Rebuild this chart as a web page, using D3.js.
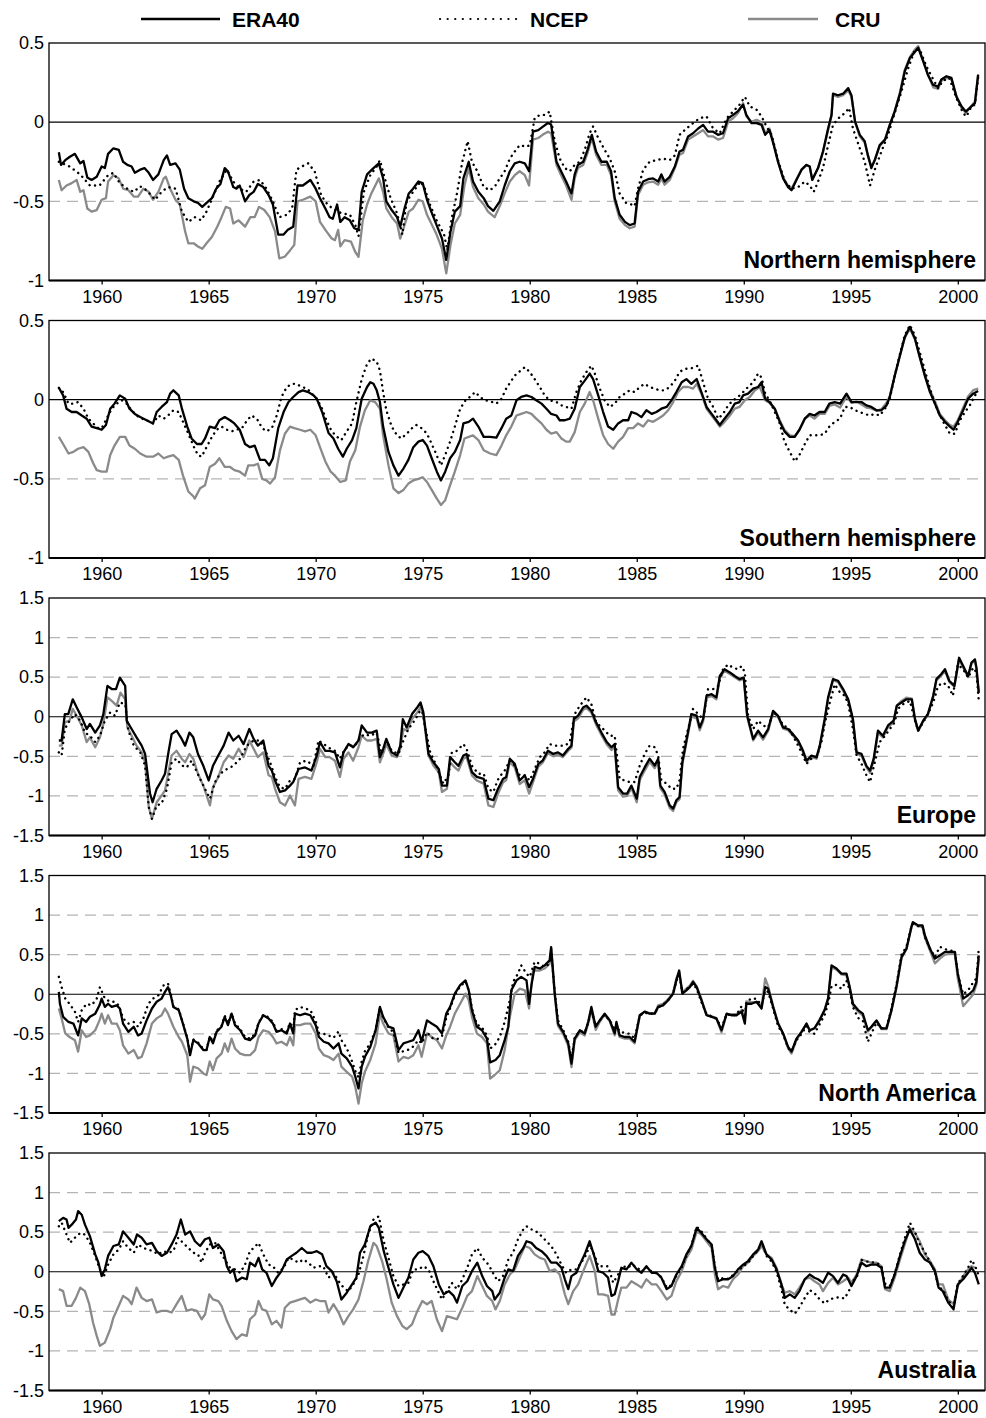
<!DOCTYPE html>
<html><head><meta charset="utf-8">
<script src="https://cdn.jsdelivr.net/npm/d3@7"></script>
<style>body{margin:0;background:#fff}svg{display:block}text{font-family:"Liberation Sans",Arial,Helvetica,sans-serif}</style>
</head><body><svg id="chart" width="986" height="1418"></svg>
<script>
const seriesNames = ["ERA40", "NCEP", "CRU"];
const panelNames = ["Northern hemisphere", "Southern hemisphere", "Europe", "North America", "Australia"];
const xTicks = [1960, 1965, 1970, 1975, 1980, 1985, 1990, 1995, 2000];
const yTicksHemi = [0.5, 0, -0.5, -1];
const yTicksRegion = [1.5, 1, 0.5, 0, -0.5, -1, -1.5];

// ---------- Northern hemisphere ----------
const nhERA40 = [[1958.0,-0.19],[1958.1,-0.27],[1958.3,-0.24],[1958.5,-0.22],[1958.75,-0.2],[1959.0,-0.26],[1959.15,-0.245],[1959.33,-0.35],[1959.53,-0.365],[1959.77,-0.345],[1960.0,-0.28],[1960.15,-0.29],[1960.3,-0.2],[1960.55,-0.165],[1960.8,-0.175],[1961.0,-0.25],[1961.2,-0.27],[1961.4,-0.28],[1961.55,-0.32],[1961.8,-0.3],[1962.0,-0.29],[1962.2,-0.32],[1962.4,-0.365],[1962.65,-0.33],[1962.9,-0.24],[1963.05,-0.21],[1963.2,-0.27],[1963.45,-0.26],[1963.65,-0.3],[1963.85,-0.42],[1964.05,-0.48],[1964.3,-0.5],[1964.5,-0.51],[1964.7,-0.535],[1964.9,-0.51],[1965.15,-0.48],[1965.35,-0.42],[1965.55,-0.39],[1965.75,-0.29],[1965.9,-0.31],[1966.15,-0.41],[1966.3,-0.42],[1966.45,-0.4],[1966.7,-0.5],[1966.9,-0.46],[1967.1,-0.44],[1967.3,-0.39],[1967.55,-0.41],[1967.8,-0.46],[1968.0,-0.52],[1968.25,-0.71],[1968.5,-0.71],[1968.7,-0.68],[1968.95,-0.66],[1969.15,-0.4],[1969.4,-0.4],[1969.75,-0.365],[1970.0,-0.42],[1970.2,-0.48],[1970.45,-0.545],[1970.65,-0.6],[1970.8,-0.61],[1971.0,-0.52],[1971.15,-0.63],[1971.35,-0.6],[1971.6,-0.62],[1971.8,-0.67],[1972.0,-0.68],[1972.15,-0.44],[1972.4,-0.33],[1972.7,-0.29],[1972.95,-0.26],[1973.15,-0.355],[1973.3,-0.5],[1973.55,-0.555],[1973.8,-0.6],[1973.95,-0.66],[1974.15,-0.545],[1974.35,-0.45],[1974.55,-0.42],[1974.8,-0.375],[1975.0,-0.385],[1975.2,-0.49],[1975.4,-0.565],[1975.65,-0.65],[1975.9,-0.735],[1976.1,-0.87],[1976.3,-0.69],[1976.5,-0.565],[1976.75,-0.53],[1976.9,-0.355],[1977.15,-0.25],[1977.35,-0.375],[1977.6,-0.44],[1977.85,-0.48],[1978.05,-0.53],[1978.3,-0.56],[1978.6,-0.5],[1978.83,-0.4],[1979.07,-0.31],[1979.3,-0.26],[1979.53,-0.25],[1979.77,-0.26],[1979.97,-0.31],[1980.15,-0.06],[1980.4,-0.05],[1980.6,-0.03],[1980.85,-0.005],[1981.0,-0.015],[1981.25,-0.25],[1981.5,-0.32],[1981.7,-0.375],[1981.95,-0.45],[1982.1,-0.33],[1982.25,-0.27],[1982.5,-0.25],[1982.7,-0.175],[1982.9,-0.08],[1983.1,-0.185],[1983.35,-0.25],[1983.6,-0.25],[1983.8,-0.31],[1983.97,-0.48],[1984.2,-0.585],[1984.45,-0.63],[1984.67,-0.65],[1984.9,-0.64],[1985.06,-0.44],[1985.3,-0.375],[1985.53,-0.36],[1985.76,-0.355],[1986.0,-0.375],[1986.15,-0.33],[1986.3,-0.375],[1986.54,-0.345],[1986.78,-0.28],[1987.0,-0.185],[1987.16,-0.175],[1987.4,-0.09],[1987.63,-0.07],[1987.87,-0.04],[1988.1,-0.017],[1988.33,-0.06],[1988.57,-0.06],[1988.8,-0.08],[1989.03,-0.07],[1989.27,0.025],[1989.5,0.046],[1989.73,0.07],[1989.97,0.11],[1990.12,0.046],[1990.36,-0.006],[1990.6,-0.006],[1990.83,-0.017],[1991.0,-0.08],[1991.2,-0.05],[1991.37,-0.13],[1991.6,-0.25],[1991.84,-0.355],[1992.07,-0.41],[1992.23,-0.43],[1992.46,-0.365],[1992.7,-0.3],[1992.93,-0.27],[1993.08,-0.28],[1993.2,-0.365],[1993.47,-0.29],[1993.7,-0.185],[1993.94,-0.04],[1994.1,0.046],[1994.17,0.18],[1994.4,0.17],[1994.64,0.18],[1994.88,0.215],[1995.03,0.17],[1995.2,0.004],[1995.42,-0.08],[1995.65,-0.12],[1995.8,-0.21],[1995.96,-0.29],[1996.12,-0.24],[1996.35,-0.145],[1996.6,-0.11],[1996.82,-0.017],[1997.05,0.067],[1997.3,0.18],[1997.52,0.32],[1997.76,0.405],[1998.0,0.445],[1998.15,0.47],[1998.38,0.385],[1998.6,0.3],[1998.85,0.235],[1999.08,0.225],[1999.23,0.27],[1999.47,0.29],[1999.7,0.28],[1999.94,0.16],[2000.17,0.1],[2000.37,0.067],[2000.56,0.09],[2000.8,0.12],[2000.95,0.3]];
const nhNCEP = [[1958.0,-0.25],[1958.5,-0.28],[1959.0,-0.33],[1959.45,-0.4],[1959.9,-0.4],[1960.3,-0.335],[1960.55,-0.32],[1960.85,-0.385],[1961.2,-0.42],[1961.5,-0.44],[1961.8,-0.405],[1962.1,-0.43],[1962.5,-0.49],[1962.8,-0.44],[1963.1,-0.41],[1963.45,-0.42],[1963.75,-0.565],[1964.05,-0.63],[1964.35,-0.6],[1964.65,-0.62],[1964.9,-0.565],[1965.2,-0.47],[1965.5,-0.375],[1965.85,-0.3],[1966.15,-0.375],[1966.45,-0.42],[1966.75,-0.44],[1967.1,-0.375],[1967.4,-0.365],[1967.7,-0.42],[1968.0,-0.5],[1968.3,-0.6],[1968.65,-0.585],[1968.9,-0.545],[1969.1,-0.3],[1969.35,-0.28],[1969.65,-0.26],[1969.95,-0.31],[1970.25,-0.46],[1970.55,-0.52],[1970.9,-0.555],[1971.2,-0.575],[1971.6,-0.585],[1971.85,-0.65],[1972.0,-0.72],[1972.25,-0.44],[1972.55,-0.335],[1972.85,-0.28],[1973.0,-0.24],[1973.25,-0.365],[1973.5,-0.48],[1973.8,-0.575],[1974.05,-0.71],[1974.25,-0.5],[1974.55,-0.44],[1974.9,-0.375],[1975.1,-0.42],[1975.35,-0.525],[1975.65,-0.62],[1976.0,-0.71],[1976.15,-0.81],[1976.35,-0.61],[1976.6,-0.45],[1976.85,-0.25],[1977.1,-0.12],[1977.3,-0.25],[1977.55,-0.31],[1977.85,-0.41],[1978.15,-0.43],[1978.4,-0.4],[1978.6,-0.355],[1978.83,-0.31],[1979.07,-0.23],[1979.3,-0.185],[1979.53,-0.145],[1979.85,-0.155],[1980.0,-0.145],[1980.23,0.025],[1980.47,0.046],[1980.7,0.046],[1980.93,0.067],[1981.17,-0.12],[1981.4,-0.23],[1981.64,-0.29],[1981.87,-0.31],[1982.1,-0.27],[1982.34,-0.25],[1982.57,-0.175],[1982.8,-0.07],[1982.96,-0.027],[1983.2,-0.1],[1983.5,-0.175],[1983.74,-0.23],[1983.97,-0.31],[1984.2,-0.45],[1984.5,-0.51],[1984.75,-0.52],[1984.9,-0.53],[1985.06,-0.42],[1985.3,-0.3],[1985.6,-0.25],[1985.92,-0.24],[1986.23,-0.23],[1986.54,-0.24],[1986.78,-0.21],[1987.0,-0.08],[1987.32,-0.04],[1987.63,-0.006],[1987.94,0.025],[1988.26,0.036],[1988.57,-0.04],[1988.88,-0.07],[1989.2,0.025],[1989.5,0.067],[1989.8,0.11],[1990.05,0.16],[1990.28,0.1],[1990.6,0.078],[1990.83,0.036],[1991.06,-0.027],[1991.3,-0.08],[1991.6,-0.24],[1991.92,-0.375],[1992.23,-0.42],[1992.54,-0.41],[1992.85,-0.375],[1993.08,-0.4],[1993.27,-0.44],[1993.47,-0.375],[1993.7,-0.29],[1993.94,-0.145],[1994.17,-0.017],[1994.5,0.036],[1994.72,0.057],[1994.92,0.09],[1995.1,-0.04],[1995.42,-0.165],[1995.65,-0.25],[1995.9,-0.4],[1996.12,-0.3],[1996.43,-0.185],[1996.74,-0.08],[1997.05,0.057],[1997.37,0.195],[1997.68,0.34],[1998.0,0.46],[1998.22,0.46],[1998.54,0.35],[1998.85,0.27],[1999.08,0.215],[1999.3,0.26],[1999.6,0.28],[1999.94,0.15],[2000.25,0.057],[2000.4,0.036],[2000.64,0.1],[2000.8,0.11],[2000.95,0.28]];
const nhCRU = [[1958.0,-0.365],[1958.13,-0.43],[1958.36,-0.4],[1958.6,-0.385],[1958.83,-0.365],[1959.0,-0.44],[1959.15,-0.43],[1959.33,-0.545],[1959.53,-0.565],[1959.77,-0.555],[1960.0,-0.49],[1960.2,-0.48],[1960.3,-0.375],[1960.55,-0.335],[1960.8,-0.355],[1961.0,-0.42],[1961.25,-0.43],[1961.5,-0.47],[1961.7,-0.47],[1961.95,-0.42],[1962.2,-0.44],[1962.4,-0.49],[1962.65,-0.44],[1962.9,-0.355],[1963.0,-0.345],[1963.2,-0.42],[1963.45,-0.49],[1963.65,-0.52],[1963.9,-0.69],[1964.05,-0.765],[1964.3,-0.765],[1964.5,-0.785],[1964.7,-0.8],[1964.9,-0.765],[1965.15,-0.725],[1965.4,-0.66],[1965.6,-0.6],[1965.8,-0.535],[1966.0,-0.545],[1966.15,-0.64],[1966.4,-0.62],[1966.7,-0.66],[1966.95,-0.6],[1967.15,-0.6],[1967.35,-0.535],[1967.6,-0.555],[1967.85,-0.6],[1968.1,-0.69],[1968.3,-0.86],[1968.55,-0.85],[1968.8,-0.81],[1969.0,-0.775],[1969.15,-0.5],[1969.4,-0.49],[1969.75,-0.47],[1970.0,-0.5],[1970.2,-0.63],[1970.5,-0.69],[1970.75,-0.735],[1970.9,-0.745],[1971.05,-0.68],[1971.15,-0.785],[1971.35,-0.745],[1971.65,-0.755],[1971.85,-0.82],[1972.0,-0.85],[1972.2,-0.62],[1972.4,-0.52],[1972.6,-0.45],[1972.95,-0.355],[1973.15,-0.44],[1973.3,-0.545],[1973.55,-0.6],[1973.8,-0.64],[1973.95,-0.735],[1974.15,-0.65],[1974.35,-0.565],[1974.55,-0.545],[1974.8,-0.49],[1975.0,-0.5],[1975.2,-0.585],[1975.4,-0.64],[1975.65,-0.71],[1975.9,-0.8],[1976.1,-0.955],[1976.3,-0.775],[1976.5,-0.64],[1976.75,-0.585],[1976.95,-0.4],[1977.15,-0.29],[1977.35,-0.41],[1977.6,-0.48],[1977.85,-0.52],[1978.05,-0.565],[1978.36,-0.6],[1978.6,-0.53],[1978.83,-0.45],[1979.07,-0.375],[1979.3,-0.335],[1979.53,-0.31],[1979.77,-0.335],[1979.97,-0.4],[1980.15,-0.11],[1980.4,-0.1],[1980.6,-0.08],[1980.85,-0.06],[1981.0,-0.07],[1981.25,-0.27],[1981.5,-0.345],[1981.7,-0.4],[1981.95,-0.49],[1982.1,-0.355],[1982.25,-0.29],[1982.5,-0.27],[1982.7,-0.195],[1982.9,-0.1],[1983.1,-0.205],[1983.35,-0.27],[1983.6,-0.27],[1983.8,-0.335],[1983.97,-0.5],[1984.2,-0.61],[1984.45,-0.65],[1984.67,-0.67],[1984.9,-0.66],[1985.06,-0.46],[1985.3,-0.395],[1985.53,-0.38],[1985.76,-0.375],[1986.0,-0.395],[1986.15,-0.355],[1986.3,-0.395],[1986.54,-0.365],[1986.78,-0.29],[1987.0,-0.205],[1987.16,-0.195],[1987.4,-0.11],[1987.63,-0.09],[1987.87,-0.07],[1988.1,-0.05],[1988.33,-0.09],[1988.57,-0.09],[1988.8,-0.11],[1989.03,-0.1],[1989.27,0.004],[1989.5,0.025],[1989.73,0.057],[1989.97,0.12],[1990.12,0.036],[1990.36,0.004],[1990.6,0.015],[1990.83,0.0],[1991.0,-0.07],[1991.2,-0.04],[1991.37,-0.12],[1991.6,-0.25],[1991.84,-0.35],[1992.07,-0.4],[1992.23,-0.42],[1992.46,-0.36],[1992.7,-0.3],[1992.93,-0.27],[1993.08,-0.28],[1993.2,-0.36],[1993.47,-0.29],[1993.7,-0.19],[1993.94,-0.05],[1994.1,0.04],[1994.17,0.17],[1994.4,0.16],[1994.64,0.17],[1994.88,0.2],[1995.03,0.16],[1995.2,0.0],[1995.42,-0.09],[1995.65,-0.13],[1995.8,-0.21],[1995.96,-0.28],[1996.12,-0.24],[1996.35,-0.15],[1996.6,-0.11],[1996.82,-0.02],[1997.05,0.07],[1997.3,0.19],[1997.52,0.33],[1997.76,0.41],[1998.0,0.46],[1998.15,0.48],[1998.38,0.39],[1998.6,0.3],[1998.85,0.22],[1999.08,0.21],[1999.23,0.26],[1999.47,0.28],[1999.7,0.27],[1999.94,0.16],[2000.17,0.09],[2000.37,0.06],[2000.56,0.09],[2000.8,0.13],[2000.95,0.3]];

// ---------- Southern hemisphere ----------
const shERA40 = [[1958.0,0.075],[1958.2,0.027],[1958.36,-0.057],[1958.6,-0.078],[1958.83,-0.078],[1959.07,-0.1],[1959.3,-0.12],[1959.53,-0.17],[1959.77,-0.18],[1960.0,-0.19],[1960.2,-0.16],[1960.4,-0.057],[1960.6,-0.025],[1960.85,0.027],[1961.1,0.006],[1961.3,-0.057],[1961.55,-0.09],[1961.8,-0.11],[1962.1,-0.13],[1962.4,-0.15],[1962.57,-0.078],[1962.8,-0.046],[1963.05,-0.015],[1963.2,0.038],[1963.35,0.059],[1963.6,0.027],[1963.75,-0.057],[1964.0,-0.17],[1964.2,-0.245],[1964.45,-0.28],[1964.67,-0.28],[1964.83,-0.245],[1965.05,-0.17],[1965.3,-0.18],[1965.5,-0.13],[1965.75,-0.11],[1966.0,-0.13],[1966.2,-0.15],[1966.45,-0.19],[1966.7,-0.28],[1966.93,-0.3],[1967.15,-0.29],[1967.4,-0.38],[1967.63,-0.38],[1967.83,-0.415],[1968.0,-0.37],[1968.25,-0.18],[1968.5,-0.078],[1968.73,-0.015],[1968.95,0.017],[1969.2,0.048],[1969.4,0.059],[1969.65,0.048],[1969.9,0.027],[1970.05,0.006],[1970.3,-0.078],[1970.6,-0.21],[1970.83,-0.245],[1971.05,-0.31],[1971.27,-0.36],[1971.45,-0.31],[1971.7,-0.255],[1971.9,-0.18],[1972.15,0.006],[1972.4,0.08],[1972.55,0.11],[1972.7,0.1],[1972.85,0.059],[1973.0,-0.015],[1973.15,-0.17],[1973.4,-0.33],[1973.63,-0.415],[1973.87,-0.48],[1974.1,-0.435],[1974.33,-0.38],[1974.56,-0.3],[1974.8,-0.265],[1975.0,-0.255],[1975.2,-0.29],[1975.42,-0.37],[1975.66,-0.455],[1975.85,-0.51],[1976.05,-0.455],[1976.28,-0.37],[1976.5,-0.33],[1976.75,-0.255],[1976.9,-0.15],[1977.15,-0.14],[1977.35,-0.12],[1977.6,-0.17],[1977.85,-0.235],[1978.15,-0.235],[1978.44,-0.24],[1978.68,-0.18],[1978.9,-0.12],[1979.14,-0.1],[1979.38,-0.004],[1979.6,0.017],[1979.85,0.027],[1980.08,0.017],[1980.3,-0.004],[1980.55,-0.025],[1980.78,-0.057],[1981.0,-0.09],[1981.25,-0.1],[1981.4,-0.13],[1981.64,-0.13],[1981.87,-0.12],[1982.1,-0.057],[1982.34,0.08],[1982.57,0.12],[1982.8,0.165],[1982.96,0.13],[1983.2,0.027],[1983.43,-0.078],[1983.66,-0.17],[1983.9,-0.19],[1984.13,-0.15],[1984.36,-0.13],[1984.6,-0.13],[1984.75,-0.078],[1985.0,-0.09],[1985.22,-0.11],[1985.45,-0.067],[1985.7,-0.09],[1985.92,-0.078],[1986.15,-0.057],[1986.4,-0.046],[1986.62,-0.004],[1986.85,0.048],[1987.1,0.11],[1987.32,0.13],[1987.55,0.1],[1987.8,0.13],[1988.02,0.048],[1988.26,-0.046],[1988.5,-0.09],[1988.72,-0.13],[1988.88,-0.16],[1989.1,-0.12],[1989.35,-0.078],[1989.58,-0.025],[1989.8,-0.015],[1989.97,0.027],[1990.2,0.038],[1990.44,0.07],[1990.67,0.08],[1990.83,0.11],[1991.0,0.006],[1991.2,-0.015],[1991.45,-0.057],[1991.68,-0.14],[1991.9,-0.2],[1992.15,-0.235],[1992.38,-0.235],[1992.6,-0.19],[1992.85,-0.12],[1993.08,-0.09],[1993.3,-0.1],[1993.54,-0.078],[1993.78,-0.078],[1994.0,-0.025],[1994.25,-0.015],[1994.5,-0.025],[1994.8,0.038],[1995.03,-0.015],[1995.27,-0.015],[1995.5,-0.015],[1995.73,-0.036],[1995.96,-0.046],[1996.2,-0.067],[1996.43,-0.067],[1996.67,-0.036],[1996.82,0.017],[1997.05,0.15],[1997.3,0.28],[1997.52,0.395],[1997.76,0.46],[1998.0,0.385],[1998.22,0.27],[1998.46,0.15],[1998.7,0.048],[1998.93,-0.025],[1999.16,-0.1],[1999.4,-0.14],[1999.63,-0.17],[1999.8,-0.19],[2000.0,-0.14],[2000.25,-0.067],[2000.48,0.006],[2000.72,0.038],[2000.95,0.055]];
const shNCEP = [[1958.0,0.075],[1958.2,0.048],[1958.45,-0.025],[1958.68,-0.025],[1958.9,-0.015],[1959.15,-0.057],[1959.38,-0.12],[1959.6,-0.15],[1959.85,-0.18],[1960.0,-0.18],[1960.23,-0.12],[1960.47,-0.057],[1960.7,-0.025],[1960.95,-0.004],[1961.17,-0.025],[1961.4,-0.067],[1961.63,-0.1],[1961.87,-0.12],[1962.1,-0.13],[1962.4,-0.15],[1962.65,-0.1],[1962.9,-0.12],[1963.1,-0.1],[1963.35,-0.067],[1963.6,-0.078],[1963.8,-0.14],[1964.05,-0.215],[1964.28,-0.29],[1964.5,-0.35],[1964.67,-0.36],[1964.9,-0.3],[1965.15,-0.235],[1965.37,-0.19],[1965.6,-0.17],[1965.85,-0.19],[1966.08,-0.2],[1966.3,-0.19],[1966.55,-0.18],[1966.8,-0.13],[1967.0,-0.1],[1967.25,-0.12],[1967.5,-0.18],[1967.7,-0.2],[1967.95,-0.18],[1968.18,-0.1],[1968.4,0.017],[1968.65,0.08],[1968.9,0.1],[1969.1,0.1],[1969.35,0.08],[1969.6,0.07],[1969.82,0.038],[1970.05,0.006],[1970.3,-0.057],[1970.5,-0.13],[1970.75,-0.2],[1971.0,-0.235],[1971.2,-0.255],[1971.45,-0.2],[1971.7,-0.15],[1971.9,-0.015],[1972.15,0.13],[1972.4,0.225],[1972.6,0.26],[1972.85,0.24],[1973.0,0.185],[1973.15,0.048],[1973.3,-0.067],[1973.55,-0.17],[1973.8,-0.225],[1974.0,-0.245],[1974.25,-0.215],[1974.5,-0.18],[1974.7,-0.16],[1974.95,-0.18],[1975.2,-0.215],[1975.42,-0.28],[1975.65,-0.35],[1975.85,-0.415],[1976.05,-0.35],[1976.28,-0.265],[1976.5,-0.17],[1976.75,-0.057],[1977.0,-0.004],[1977.2,0.017],[1977.45,0.048],[1977.68,0.017],[1977.9,-0.004],[1978.15,-0.01],[1978.44,-0.025],[1978.68,0.006],[1978.9,0.07],[1979.14,0.12],[1979.38,0.165],[1979.6,0.185],[1979.77,0.205],[1980.0,0.175],[1980.23,0.13],[1980.47,0.08],[1980.7,0.027],[1980.93,-0.004],[1981.25,-0.015],[1981.48,-0.036],[1981.7,-0.046],[1981.95,-0.057],[1982.18,0.048],[1982.4,0.12],[1982.65,0.175],[1982.88,0.215],[1983.04,0.165],[1983.27,0.07],[1983.5,-0.004],[1983.74,-0.046],[1983.97,-0.025],[1984.2,0.017],[1984.44,0.038],[1984.67,0.059],[1984.9,0.048],[1985.14,0.08],[1985.37,0.1],[1985.6,0.08],[1985.84,0.07],[1986.07,0.059],[1986.3,0.059],[1986.54,0.08],[1986.78,0.12],[1987.0,0.175],[1987.24,0.195],[1987.47,0.195],[1987.7,0.205],[1987.87,0.215],[1988.1,0.11],[1988.33,0.006],[1988.57,-0.046],[1988.8,-0.12],[1989.03,-0.09],[1989.27,-0.036],[1989.5,-0.004],[1989.73,0.017],[1989.97,0.048],[1990.2,0.08],[1990.44,0.11],[1990.67,0.165],[1990.83,0.14],[1991.0,0.038],[1991.2,-0.004],[1991.45,-0.078],[1991.68,-0.15],[1991.9,-0.265],[1992.15,-0.33],[1992.38,-0.39],[1992.6,-0.35],[1992.85,-0.28],[1993.08,-0.225],[1993.3,-0.225],[1993.54,-0.225],[1993.78,-0.215],[1994.0,-0.17],[1994.25,-0.14],[1994.5,-0.12],[1994.72,-0.046],[1994.95,-0.046],[1995.2,-0.067],[1995.42,-0.078],[1995.65,-0.09],[1995.9,-0.1],[1996.12,-0.09],[1996.35,-0.1],[1996.6,-0.057],[1996.82,0.006],[1997.05,0.15],[1997.3,0.29],[1997.52,0.405],[1997.76,0.47],[1998.0,0.405],[1998.22,0.3],[1998.46,0.185],[1998.7,0.07],[1998.93,-0.025],[1999.16,-0.1],[1999.4,-0.16],[1999.63,-0.215],[1999.86,-0.215],[2000.1,-0.13],[2000.33,-0.078],[2000.56,-0.036],[2000.8,0.027],[2000.95,0.048]];
const shCRU = [[1958.0,-0.235],[1958.2,-0.28],[1958.45,-0.34],[1958.68,-0.33],[1958.9,-0.31],[1959.15,-0.3],[1959.38,-0.33],[1959.6,-0.4],[1959.77,-0.445],[1960.0,-0.455],[1960.23,-0.455],[1960.4,-0.35],[1960.6,-0.29],[1960.85,-0.235],[1961.1,-0.235],[1961.3,-0.29],[1961.55,-0.31],[1961.8,-0.34],[1962.1,-0.36],[1962.4,-0.36],[1962.65,-0.34],[1962.9,-0.37],[1963.1,-0.36],[1963.35,-0.35],[1963.6,-0.38],[1963.8,-0.48],[1964.05,-0.58],[1964.28,-0.61],[1964.35,-0.625],[1964.6,-0.56],[1964.83,-0.54],[1965.05,-0.425],[1965.3,-0.405],[1965.5,-0.37],[1965.75,-0.425],[1966.0,-0.425],[1966.2,-0.445],[1966.45,-0.455],[1966.7,-0.48],[1966.85,-0.415],[1967.1,-0.415],[1967.3,-0.405],[1967.5,-0.5],[1967.7,-0.51],[1967.87,-0.53],[1968.1,-0.49],[1968.33,-0.32],[1968.56,-0.215],[1968.8,-0.17],[1969.0,-0.18],[1969.27,-0.19],[1969.5,-0.2],[1969.75,-0.19],[1970.0,-0.225],[1970.2,-0.3],[1970.45,-0.39],[1970.7,-0.455],[1970.9,-0.48],[1971.15,-0.52],[1971.4,-0.51],[1971.6,-0.39],[1971.85,-0.32],[1972.07,-0.17],[1972.3,-0.067],[1972.55,-0.004],[1972.78,-0.015],[1973.0,-0.057],[1973.15,-0.225],[1973.4,-0.415],[1973.63,-0.56],[1973.87,-0.59],[1974.1,-0.57],[1974.33,-0.53],[1974.56,-0.51],[1974.8,-0.5],[1975.0,-0.49],[1975.2,-0.52],[1975.42,-0.57],[1975.66,-0.625],[1975.85,-0.665],[1976.05,-0.635],[1976.28,-0.54],[1976.5,-0.455],[1976.75,-0.35],[1976.95,-0.245],[1977.15,-0.235],[1977.35,-0.225],[1977.6,-0.255],[1977.85,-0.32],[1978.15,-0.34],[1978.44,-0.35],[1978.68,-0.29],[1978.9,-0.225],[1979.14,-0.17],[1979.38,-0.1],[1979.6,-0.09],[1979.85,-0.078],[1980.08,-0.09],[1980.3,-0.12],[1980.55,-0.15],[1980.78,-0.19],[1981.0,-0.215],[1981.25,-0.205],[1981.48,-0.245],[1981.7,-0.265],[1981.87,-0.265],[1982.1,-0.205],[1982.34,-0.078],[1982.57,-0.025],[1982.8,0.048],[1982.96,-0.004],[1983.2,-0.12],[1983.43,-0.225],[1983.66,-0.28],[1983.9,-0.31],[1984.13,-0.265],[1984.36,-0.235],[1984.6,-0.18],[1984.83,-0.18],[1985.06,-0.15],[1985.3,-0.17],[1985.53,-0.13],[1985.76,-0.14],[1986.0,-0.12],[1986.23,-0.1],[1986.47,-0.067],[1986.7,-0.015],[1986.93,0.048],[1987.16,0.08],[1987.4,0.08],[1987.63,0.07],[1987.8,0.1],[1988.02,0.038],[1988.26,-0.057],[1988.5,-0.1],[1988.72,-0.14],[1988.88,-0.17],[1989.1,-0.14],[1989.35,-0.1],[1989.58,-0.057],[1989.8,-0.046],[1990.05,-0.004],[1990.28,0.017],[1990.52,0.059],[1990.75,0.08],[1991.0,-0.004],[1991.2,-0.02],[1991.45,-0.06],[1991.68,-0.13],[1991.9,-0.19],[1992.15,-0.225],[1992.38,-0.23],[1992.6,-0.19],[1992.85,-0.12],[1993.08,-0.1],[1993.3,-0.12],[1993.54,-0.09],[1993.78,-0.09],[1994.0,-0.04],[1994.25,-0.03],[1994.5,-0.05],[1994.8,0.02],[1995.03,-0.02],[1995.27,-0.01],[1995.5,-0.03],[1995.73,-0.05],[1995.96,-0.055],[1996.2,-0.07],[1996.43,-0.06],[1996.67,-0.02],[1996.82,0.02],[1997.05,0.15],[1997.3,0.28],[1997.52,0.39],[1997.76,0.45],[1998.0,0.38],[1998.22,0.27],[1998.46,0.16],[1998.7,0.06],[1998.93,-0.01],[1999.16,-0.09],[1999.4,-0.13],[1999.63,-0.16],[1999.8,-0.17],[2000.0,-0.13],[2000.25,-0.05],[2000.48,0.02],[2000.72,0.06],[2000.95,0.07]];

// ---------- Europe ----------
const euERA40 = [[1958.0,-0.3],[1958.13,-0.3],[1958.28,0.034],[1958.44,0.034],[1958.65,0.22],[1958.83,0.12],[1959.07,-0.008],[1959.3,-0.155],[1959.45,-0.09],[1959.7,-0.2],[1959.92,-0.11],[1960.08,0.034],[1960.27,0.39],[1960.47,0.35],[1960.67,0.35],[1960.85,0.495],[1961.1,0.39],[1961.17,-0.05],[1961.4,-0.155],[1961.63,-0.26],[1961.87,-0.365],[1962.03,-0.47],[1962.26,-0.97],[1962.38,-1.08],[1962.57,-0.91],[1962.8,-0.805],[1962.96,-0.72],[1963.12,-0.45],[1963.27,-0.22],[1963.5,-0.175],[1963.74,-0.28],[1963.9,-0.365],[1964.1,-0.2],[1964.28,-0.26],[1964.5,-0.47],[1964.75,-0.62],[1965.0,-0.805],[1965.2,-0.62],[1965.45,-0.49],[1965.7,-0.365],[1965.93,-0.2],[1966.15,-0.3],[1966.4,-0.24],[1966.63,-0.345],[1966.9,-0.155],[1967.1,-0.28],[1967.3,-0.365],[1967.55,-0.3],[1967.8,-0.62],[1967.95,-0.68],[1968.1,-0.805],[1968.33,-0.95],[1968.57,-0.93],[1968.8,-0.87],[1968.95,-0.825],[1969.2,-0.66],[1969.5,-0.64],[1969.8,-0.68],[1970.05,-0.49],[1970.2,-0.32],[1970.45,-0.43],[1970.65,-0.43],[1970.9,-0.45],[1971.13,-0.64],[1971.3,-0.45],[1971.53,-0.345],[1971.75,-0.385],[1972.0,-0.3],[1972.15,-0.11],[1972.4,-0.2],[1972.62,-0.2],[1972.85,-0.175],[1973.0,-0.51],[1973.15,-0.41],[1973.3,-0.28],[1973.55,-0.45],[1973.8,-0.49],[1973.95,-0.365],[1974.07,-0.03],[1974.25,-0.135],[1974.5,0.034],[1974.75,0.12],[1974.9,0.18],[1975.03,0.055],[1975.27,-0.47],[1975.5,-0.575],[1975.75,-0.66],[1975.9,-0.87],[1976.13,-0.87],[1976.28,-0.51],[1976.5,-0.575],[1976.67,-0.62],[1976.9,-0.49],[1977.05,-0.47],[1977.3,-0.7],[1977.53,-0.76],[1977.85,-0.785],[1978.07,-1.035],[1978.3,-1.055],[1978.52,-0.91],[1978.75,-0.785],[1978.9,-0.76],[1979.07,-0.53],[1979.3,-0.595],[1979.53,-0.805],[1979.77,-0.74],[1979.97,-0.89],[1980.15,-0.785],[1980.4,-0.595],[1980.6,-0.555],[1980.85,-0.43],[1981.1,-0.47],[1981.32,-0.45],[1981.55,-0.49],[1981.8,-0.405],[1981.95,-0.365],[1982.06,-0.03],[1982.26,0.013],[1982.5,0.12],[1982.65,0.14],[1982.88,0.075],[1983.1,-0.07],[1983.35,-0.2],[1983.6,-0.32],[1983.82,-0.385],[1983.97,-0.345],[1984.13,-0.89],[1984.36,-0.97],[1984.55,-0.97],[1984.75,-0.87],[1985.0,-1.035],[1985.14,-0.76],[1985.37,-0.64],[1985.6,-0.53],[1985.84,-0.615],[1986.0,-0.53],[1986.1,-0.87],[1986.3,-0.95],[1986.54,-1.12],[1986.7,-1.16],[1986.85,-1.055],[1987.0,-1.015],[1987.13,-0.575],[1987.32,-0.3],[1987.55,0.034],[1987.8,0.013],[1987.94,-0.135],[1988.1,-0.03],[1988.26,0.265],[1988.5,0.285],[1988.72,0.245],[1988.88,0.515],[1989.1,0.6],[1989.35,0.56],[1989.58,0.515],[1989.8,0.475],[1990.0,0.495],[1990.16,0.013],[1990.44,-0.28],[1990.67,-0.175],[1990.9,-0.26],[1991.14,-0.155],[1991.37,0.075],[1991.6,0.013],[1991.84,-0.135],[1992.07,-0.155],[1992.3,-0.22],[1992.54,-0.3],[1992.77,-0.43],[1992.93,-0.555],[1993.16,-0.49],[1993.4,-0.51],[1993.55,-0.365],[1993.78,-0.03],[1993.94,0.245],[1994.17,0.475],[1994.4,0.455],[1994.64,0.35],[1994.88,0.22],[1995.1,-0.03],[1995.27,-0.45],[1995.5,-0.47],[1995.73,-0.62],[1995.9,-0.68],[1996.07,-0.53],[1996.27,-0.175],[1996.5,-0.24],[1996.74,-0.11],[1997.0,-0.05],[1997.15,0.14],[1997.37,0.18],[1997.6,0.22],[1997.85,0.22],[1998.0,-0.03],[1998.15,-0.175],[1998.38,-0.05],[1998.6,0.034],[1998.85,0.265],[1999.0,0.475],[1999.23,0.54],[1999.4,0.6],[1999.6,0.455],[1999.84,0.39],[2000.06,0.745],[2000.25,0.64],[2000.48,0.515],[2000.64,0.685],[2000.8,0.725],[2000.87,0.62],[2000.98,0.305]];
const euNCEP = [[1958.0,-0.45],[1958.13,-0.49],[1958.28,-0.155],[1958.5,-0.05],[1958.75,0.034],[1959.0,-0.05],[1959.22,-0.2],[1959.45,-0.24],[1959.7,-0.32],[1959.92,-0.24],[1960.15,-0.05],[1960.4,0.055],[1960.62,0.013],[1960.85,0.18],[1961.1,0.16],[1961.25,-0.175],[1961.5,-0.365],[1961.8,-0.45],[1962.03,-0.62],[1962.2,-1.14],[1962.35,-1.29],[1962.57,-1.12],[1962.8,-1.1],[1963.05,-0.91],[1963.27,-0.575],[1963.5,-0.53],[1963.74,-0.615],[1963.97,-0.64],[1964.2,-0.555],[1964.45,-0.7],[1964.67,-0.825],[1964.9,-0.95],[1965.06,-1.035],[1965.3,-0.825],[1965.53,-0.72],[1965.85,-0.66],[1966.15,-0.62],[1966.47,-0.53],[1966.78,-0.365],[1967.1,-0.3],[1967.4,-0.3],[1967.62,-0.405],[1967.87,-0.575],[1968.1,-0.76],[1968.33,-0.89],[1968.57,-0.91],[1968.8,-0.805],[1969.03,-0.785],[1969.27,-0.575],[1969.58,-0.555],[1969.9,-0.62],[1970.13,-0.3],[1970.37,-0.345],[1970.7,-0.405],[1970.9,-0.43],[1971.13,-0.53],[1971.37,-0.405],[1971.6,-0.365],[1971.85,-0.365],[1972.07,-0.26],[1972.3,-0.22],[1972.55,-0.24],[1972.85,-0.2],[1973.08,-0.47],[1973.3,-0.3],[1973.55,-0.43],[1973.87,-0.47],[1974.1,-0.3],[1974.33,-0.155],[1974.56,-0.07],[1974.8,0.034],[1974.95,0.12],[1975.1,-0.11],[1975.35,-0.45],[1975.57,-0.575],[1975.8,-0.74],[1975.97,-0.845],[1976.2,-0.74],[1976.36,-0.45],[1976.6,-0.43],[1976.9,-0.345],[1977.05,-0.405],[1977.3,-0.62],[1977.6,-0.72],[1977.85,-0.72],[1978.07,-0.91],[1978.3,-0.95],[1978.5,-0.8],[1978.7,-0.72],[1978.83,-0.68],[1979.07,-0.555],[1979.3,-0.615],[1979.53,-0.74],[1979.77,-0.74],[1980.0,-0.805],[1980.23,-0.66],[1980.47,-0.51],[1980.7,-0.45],[1980.93,-0.345],[1981.17,-0.365],[1981.4,-0.365],[1981.64,-0.365],[1981.87,-0.32],[1982.1,0.034],[1982.34,0.14],[1982.65,0.245],[1982.88,0.16],[1983.1,-0.07],[1983.43,-0.155],[1983.74,-0.24],[1983.97,-0.24],[1984.2,-0.785],[1984.44,-0.805],[1984.67,-0.825],[1984.9,-0.825],[1985.14,-0.615],[1985.37,-0.47],[1985.6,-0.365],[1985.84,-0.385],[1986.0,-0.49],[1986.15,-0.805],[1986.4,-0.845],[1986.62,-0.91],[1986.85,-0.91],[1987.0,-0.805],[1987.16,-0.405],[1987.4,-0.155],[1987.63,0.1],[1987.87,0.034],[1988.1,-0.03],[1988.33,0.35],[1988.57,0.35],[1988.8,0.39],[1989.03,0.6],[1989.27,0.66],[1989.5,0.62],[1989.73,0.6],[1989.9,0.64],[1990.05,0.56],[1990.2,0.013],[1990.44,-0.155],[1990.67,-0.05],[1990.9,-0.11],[1991.14,-0.135],[1991.37,0.055],[1991.6,0.013],[1991.84,-0.11],[1992.07,-0.135],[1992.3,-0.24],[1992.54,-0.365],[1992.77,-0.49],[1992.93,-0.595],[1993.16,-0.53],[1993.4,-0.51],[1993.63,-0.32],[1993.78,-0.09],[1994.0,0.16],[1994.25,0.41],[1994.5,0.305],[1994.72,0.265],[1994.88,0.16],[1995.1,-0.155],[1995.27,-0.49],[1995.5,-0.595],[1995.73,-0.74],[1995.9,-0.825],[1996.12,-0.575],[1996.35,-0.32],[1996.6,-0.24],[1996.82,-0.155],[1997.05,-0.07],[1997.2,0.1],[1997.45,0.16],[1997.76,0.2],[1998.0,-0.05],[1998.15,-0.175],[1998.38,-0.07],[1998.6,0.034],[1998.85,0.18],[1999.08,0.39],[1999.3,0.43],[1999.55,0.39],[1999.77,0.265],[2000.0,0.66],[2000.25,0.6],[2000.48,0.495],[2000.72,0.62],[2000.87,0.56],[2000.98,0.2]];
const euCRU = [[1958.0,-0.365],[1958.13,-0.365],[1958.28,-0.07],[1958.5,-0.05],[1958.65,0.1],[1958.83,0.013],[1959.07,-0.11],[1959.3,-0.32],[1959.45,-0.26],[1959.7,-0.385],[1959.92,-0.26],[1960.08,-0.09],[1960.27,0.245],[1960.47,0.2],[1960.7,0.14],[1960.88,0.305],[1961.1,0.22],[1961.2,-0.135],[1961.4,-0.24],[1961.63,-0.365],[1961.87,-0.45],[1962.03,-0.575],[1962.2,-1.14],[1962.35,-1.29],[1962.57,-1.08],[1962.8,-0.995],[1962.96,-0.93],[1963.12,-0.7],[1963.27,-0.49],[1963.5,-0.43],[1963.74,-0.53],[1963.9,-0.575],[1964.1,-0.47],[1964.28,-0.53],[1964.5,-0.72],[1964.75,-0.87],[1965.06,-1.12],[1965.2,-0.89],[1965.45,-0.76],[1965.7,-0.575],[1965.93,-0.49],[1966.15,-0.53],[1966.4,-0.405],[1966.63,-0.51],[1966.9,-0.3],[1967.1,-0.405],[1967.3,-0.51],[1967.55,-0.45],[1967.8,-0.74],[1967.95,-0.76],[1968.1,-0.91],[1968.33,-1.08],[1968.57,-1.12],[1968.8,-0.995],[1969.03,-1.12],[1969.2,-0.785],[1969.5,-0.76],[1969.8,-0.785],[1970.05,-0.575],[1970.2,-0.405],[1970.45,-0.51],[1970.65,-0.51],[1970.9,-0.555],[1971.13,-0.76],[1971.3,-0.53],[1971.53,-0.45],[1971.75,-0.555],[1972.0,-0.385],[1972.15,-0.24],[1972.4,-0.3],[1972.62,-0.3],[1972.85,-0.28],[1973.0,-0.575],[1973.15,-0.47],[1973.3,-0.345],[1973.55,-0.49],[1973.8,-0.51],[1973.95,-0.405],[1974.1,-0.155],[1974.28,-0.175],[1974.5,-0.03],[1974.75,0.055],[1974.9,0.12],[1975.03,0.013],[1975.27,-0.49],[1975.5,-0.615],[1975.75,-0.7],[1975.9,-0.95],[1976.13,-0.91],[1976.28,-0.575],[1976.5,-0.64],[1976.67,-0.68],[1976.9,-0.53],[1977.05,-0.51],[1977.3,-0.74],[1977.53,-0.805],[1977.85,-0.845],[1978.07,-1.12],[1978.3,-1.14],[1978.52,-0.97],[1978.75,-0.83],[1978.9,-0.8],[1979.07,-0.57],[1979.3,-0.64],[1979.53,-0.85],[1979.77,-0.8],[1979.97,-0.97],[1980.15,-0.83],[1980.4,-0.63],[1980.6,-0.58],[1980.85,-0.46],[1981.1,-0.5],[1981.32,-0.48],[1981.55,-0.51],[1981.8,-0.43],[1981.95,-0.39],[1982.06,-0.06],[1982.26,-0.02],[1982.5,0.09],[1982.65,0.11],[1982.88,0.05],[1983.1,-0.1],[1983.35,-0.23],[1983.6,-0.35],[1983.82,-0.42],[1983.97,-0.38],[1984.13,-0.93],[1984.36,-1.01],[1984.55,-1.0],[1984.75,-0.9],[1985.0,-1.08],[1985.14,-0.8],[1985.37,-0.68],[1985.6,-0.57],[1985.84,-0.65],[1986.0,-0.56],[1986.1,-0.9],[1986.3,-0.98],[1986.54,-1.15],[1986.7,-1.19],[1986.85,-1.08],[1987.0,-1.04],[1987.13,-0.6],[1987.32,-0.33],[1987.55,0.0],[1987.8,-0.02],[1987.94,-0.17],[1988.1,-0.06],[1988.26,0.24],[1988.5,0.26],[1988.72,0.22],[1988.88,0.49],[1989.1,0.58],[1989.35,0.54],[1989.58,0.5],[1989.8,0.46],[1990.0,0.48],[1990.16,0.0],[1990.44,-0.3],[1990.67,-0.2],[1990.9,-0.29],[1991.14,-0.18],[1991.37,0.06],[1991.6,0.0],[1991.84,-0.15],[1992.07,-0.17],[1992.3,-0.24],[1992.54,-0.32],[1992.77,-0.45],[1992.93,-0.57],[1993.16,-0.51],[1993.4,-0.53],[1993.55,-0.38],[1993.78,-0.05],[1993.94,0.22],[1994.17,0.46],[1994.4,0.44],[1994.64,0.33],[1994.88,0.2],[1995.1,-0.05],[1995.27,-0.47],[1995.5,-0.49],[1995.73,-0.64],[1995.9,-0.71],[1996.07,-0.55],[1996.27,-0.2],[1996.5,-0.26],[1996.74,-0.13],[1997.0,-0.07],[1997.15,0.14],[1997.37,0.2],[1997.6,0.24],[1997.85,0.23],[1998.0,-0.04],[1998.15,-0.18],[1998.38,-0.06],[1998.6,0.02],[1998.85,0.25],[1999.0,0.46],[1999.23,0.52],[1999.4,0.58],[1999.6,0.44],[1999.84,0.38],[2000.06,0.73],[2000.25,0.62],[2000.48,0.5],[2000.64,0.67],[2000.8,0.71],[2000.87,0.6],[2000.98,0.3]];

// ---------- North America ----------
const naERA40 = [[1958.0,0.03],[1958.05,-0.12],[1958.2,-0.285],[1958.45,-0.35],[1958.68,-0.37],[1958.9,-0.52],[1959.07,-0.305],[1959.27,-0.35],[1959.45,-0.285],[1959.7,-0.245],[1959.9,-0.14],[1960.0,-0.055],[1960.15,-0.16],[1960.3,-0.12],[1960.47,-0.16],[1960.7,-0.14],[1960.85,-0.18],[1961.0,-0.37],[1961.25,-0.475],[1961.5,-0.41],[1961.7,-0.52],[1961.87,-0.495],[1962.1,-0.33],[1962.35,-0.18],[1962.57,-0.095],[1962.8,-0.055],[1962.96,0.03],[1963.1,0.09],[1963.23,-0.013],[1963.35,-0.16],[1963.6,-0.2],[1963.75,-0.33],[1964.0,-0.56],[1964.13,-0.77],[1964.28,-0.58],[1964.5,-0.62],[1964.75,-0.705],[1964.9,-0.705],[1965.05,-0.54],[1965.2,-0.62],[1965.37,-0.475],[1965.6,-0.41],[1965.75,-0.285],[1965.9,-0.39],[1966.07,-0.245],[1966.23,-0.39],[1966.47,-0.455],[1966.7,-0.56],[1966.93,-0.58],[1967.17,-0.52],[1967.33,-0.37],[1967.55,-0.265],[1967.8,-0.305],[1968.0,-0.37],[1968.17,-0.475],[1968.4,-0.455],[1968.65,-0.495],[1968.8,-0.37],[1968.95,-0.495],[1969.03,-0.245],[1969.27,-0.265],[1969.5,-0.245],[1969.75,-0.265],[1970.0,-0.39],[1970.15,-0.54],[1970.38,-0.6],[1970.6,-0.62],[1970.83,-0.685],[1971.07,-0.62],[1971.2,-0.75],[1971.45,-0.81],[1971.7,-0.915],[1971.85,-1.04],[1972.0,-1.19],[1972.15,-0.915],[1972.3,-0.79],[1972.55,-0.665],[1972.8,-0.455],[1973.0,-0.16],[1973.15,-0.285],[1973.4,-0.41],[1973.63,-0.43],[1973.87,-0.705],[1974.1,-0.62],[1974.33,-0.6],[1974.56,-0.58],[1974.8,-0.455],[1974.95,-0.6],[1975.2,-0.33],[1975.42,-0.37],[1975.66,-0.41],[1975.9,-0.495],[1976.1,-0.245],[1976.28,-0.16],[1976.5,0.008],[1976.75,0.115],[1977.0,0.175],[1977.15,0.05],[1977.3,-0.2],[1977.53,-0.41],[1977.77,-0.455],[1978.0,-0.56],[1978.15,-0.86],[1978.4,-0.83],[1978.6,-0.77],[1978.83,-0.58],[1979.0,-0.41],[1979.14,0.05],[1979.38,0.175],[1979.6,0.22],[1979.85,0.175],[1979.97,-0.12],[1980.08,0.115],[1980.23,0.345],[1980.47,0.325],[1980.7,0.365],[1980.93,0.43],[1981.0,0.595],[1981.17,0.008],[1981.32,-0.37],[1981.56,-0.475],[1981.8,-0.62],[1981.95,-0.875],[1982.1,-0.56],[1982.34,-0.455],[1982.57,-0.495],[1982.73,-0.35],[1982.88,-0.16],[1983.08,-0.41],[1983.27,-0.33],[1983.5,-0.245],[1983.74,-0.33],[1983.97,-0.495],[1984.05,-0.35],[1984.2,-0.52],[1984.44,-0.54],[1984.67,-0.54],[1984.9,-0.6],[1985.14,-0.265],[1985.37,-0.22],[1985.6,-0.245],[1985.84,-0.245],[1986.0,-0.16],[1986.23,-0.14],[1986.47,-0.075],[1986.7,0.008],[1986.85,0.175],[1986.98,0.3],[1987.13,0.008],[1987.32,0.05],[1987.48,0.09],[1987.63,0.155],[1987.8,0.09],[1988.02,-0.075],[1988.26,-0.265],[1988.5,-0.285],[1988.72,-0.305],[1988.96,-0.455],[1989.2,-0.245],[1989.42,-0.265],[1989.66,-0.265],[1989.9,-0.22],[1990.05,-0.37],[1990.12,-0.12],[1990.36,-0.12],[1990.6,-0.095],[1990.83,-0.18],[1991.0,0.09],[1991.14,0.07],[1991.37,-0.16],[1991.6,-0.37],[1991.84,-0.495],[1992.07,-0.665],[1992.23,-0.725],[1992.46,-0.56],[1992.7,-0.475],[1992.93,-0.37],[1993.08,-0.455],[1993.3,-0.43],[1993.54,-0.33],[1993.78,-0.2],[1993.94,-0.055],[1994.1,0.365],[1994.33,0.325],[1994.56,0.26],[1994.8,0.26],[1994.95,0.09],[1995.1,-0.12],[1995.34,-0.2],[1995.56,-0.245],[1995.8,-0.455],[1995.96,-0.41],[1996.2,-0.33],[1996.43,-0.43],[1996.67,-0.43],[1996.9,-0.2],[1997.13,0.09],[1997.37,0.47],[1997.6,0.575],[1997.83,0.85],[1997.9,0.91],[1998.15,0.87],[1998.35,0.87],[1998.46,0.745],[1998.7,0.575],[1998.93,0.45],[1999.16,0.49],[1999.4,0.535],[1999.63,0.535],[1999.86,0.535],[2000.0,0.26],[2000.25,-0.055],[2000.48,-0.013],[2000.72,0.05],[2000.87,0.155],[2000.98,0.49]];
const naNCEP = [[1958.0,0.22],[1958.13,0.09],[1958.3,-0.055],[1958.5,-0.12],[1958.75,-0.22],[1958.9,-0.35],[1959.07,-0.2],[1959.3,-0.12],[1959.53,-0.14],[1959.77,-0.055],[1959.92,0.09],[1960.15,-0.055],[1960.4,-0.095],[1960.62,-0.095],[1960.8,-0.14],[1961.0,-0.305],[1961.25,-0.37],[1961.5,-0.35],[1961.7,-0.41],[1961.95,-0.305],[1962.18,-0.12],[1962.4,-0.055],[1962.65,-0.013],[1962.9,0.115],[1963.1,0.135],[1963.23,0.0],[1963.35,-0.15],[1963.6,-0.19],[1963.75,-0.32],[1964.0,-0.55],[1964.13,-0.75],[1964.28,-0.57],[1964.5,-0.61],[1964.75,-0.69],[1964.9,-0.7],[1965.05,-0.53],[1965.2,-0.6],[1965.37,-0.46],[1965.6,-0.4],[1965.75,-0.27],[1965.9,-0.37],[1966.07,-0.24],[1966.23,-0.37],[1966.47,-0.44],[1966.7,-0.54],[1966.93,-0.56],[1967.17,-0.5],[1967.33,-0.36],[1967.55,-0.26],[1967.8,-0.29],[1968.0,-0.35],[1968.17,-0.46],[1968.4,-0.44],[1968.65,-0.47],[1968.8,-0.36],[1968.95,-0.45],[1969.03,-0.2],[1969.27,-0.16],[1969.5,-0.18],[1969.75,-0.2],[1970.0,-0.34],[1970.15,-0.49],[1970.38,-0.5],[1970.6,-0.52],[1970.83,-0.55],[1971.07,-0.47],[1971.2,-0.58],[1971.45,-0.68],[1971.7,-0.85],[1971.85,-0.97],[1972.0,-1.05],[1972.15,-0.85],[1972.3,-0.72],[1972.55,-0.62],[1972.8,-0.45],[1973.0,-0.17],[1973.15,-0.29],[1973.4,-0.42],[1973.63,-0.48],[1973.87,-0.74],[1974.1,-0.72],[1974.33,-0.7],[1974.56,-0.66],[1974.8,-0.58],[1974.95,-0.62],[1975.2,-0.48],[1975.42,-0.55],[1975.66,-0.57],[1975.9,-0.53],[1976.1,-0.3],[1976.28,-0.18],[1976.5,-0.01],[1976.75,0.1],[1977.0,0.16],[1977.15,0.05],[1977.3,-0.18],[1977.53,-0.38],[1977.77,-0.42],[1978.0,-0.52],[1978.15,-0.685],[1978.36,-0.645],[1978.6,-0.54],[1978.83,-0.35],[1979.07,-0.075],[1979.22,0.155],[1979.45,0.26],[1979.6,0.365],[1979.85,0.26],[1980.0,0.22],[1980.23,0.41],[1980.47,0.385],[1980.7,0.345],[1980.93,0.385],[1981.0,0.57],[1981.17,0.02],[1981.32,-0.33],[1981.56,-0.45],[1981.8,-0.6],[1981.95,-0.82],[1982.1,-0.55],[1982.34,-0.46],[1982.57,-0.48],[1982.73,-0.36],[1982.88,-0.2],[1983.08,-0.4],[1983.27,-0.33],[1983.5,-0.26],[1983.74,-0.33],[1983.97,-0.45],[1984.05,-0.4],[1984.2,-0.47],[1984.44,-0.49],[1984.67,-0.5],[1984.9,-0.56],[1985.14,-0.27],[1985.37,-0.23],[1985.6,-0.25],[1985.84,-0.24],[1986.0,-0.17],[1986.23,-0.13],[1986.47,-0.07],[1986.7,0.01],[1986.85,0.16],[1986.98,0.27],[1987.13,0.02],[1987.32,0.06],[1987.48,0.1],[1987.63,0.13],[1987.8,0.07],[1988.02,-0.1],[1988.26,-0.25],[1988.5,-0.28],[1988.72,-0.31],[1988.96,-0.42],[1989.2,-0.25],[1989.42,-0.27],[1989.66,-0.26],[1989.9,-0.15],[1990.05,-0.3],[1990.12,-0.1],[1990.36,-0.05],[1990.6,-0.06],[1990.83,-0.14],[1991.0,0.05],[1991.14,0.03],[1991.37,-0.18],[1991.6,-0.4],[1991.84,-0.51],[1992.07,-0.68],[1992.23,-0.72],[1992.46,-0.58],[1992.7,-0.5],[1992.93,-0.4],[1993.08,-0.48],[1993.3,-0.5],[1993.54,-0.38],[1993.78,-0.26],[1993.94,-0.12],[1994.1,0.1],[1994.33,0.12],[1994.56,0.07],[1994.8,0.17],[1994.95,0.05],[1995.1,-0.16],[1995.34,-0.3],[1995.56,-0.33],[1995.8,-0.6],[1995.96,-0.5],[1996.2,-0.36],[1996.43,-0.43],[1996.67,-0.42],[1996.9,-0.18],[1997.13,0.12],[1997.37,0.5],[1997.6,0.6],[1997.83,0.85],[1997.9,0.89],[1998.15,0.86],[1998.35,0.86],[1998.46,0.72],[1998.7,0.58],[1998.93,0.47],[1999.16,0.6],[1999.4,0.57],[1999.63,0.55],[1999.86,0.55],[2000.0,0.25],[2000.25,0.0],[2000.48,0.05],[2000.72,0.15],[2000.87,0.2],[2000.98,0.58]];
const naCRU = [[1958.0,-0.18],[1958.13,-0.305],[1958.3,-0.495],[1958.5,-0.54],[1958.75,-0.58],[1958.9,-0.725],[1959.07,-0.455],[1959.27,-0.54],[1959.45,-0.52],[1959.7,-0.455],[1959.9,-0.33],[1960.0,-0.245],[1960.15,-0.37],[1960.3,-0.265],[1960.47,-0.37],[1960.7,-0.37],[1960.85,-0.455],[1961.0,-0.645],[1961.25,-0.75],[1961.5,-0.705],[1961.7,-0.81],[1961.87,-0.79],[1962.1,-0.62],[1962.35,-0.37],[1962.57,-0.305],[1962.8,-0.265],[1962.96,-0.18],[1963.1,-0.245],[1963.35,-0.41],[1963.6,-0.54],[1963.75,-0.6],[1964.0,-0.77],[1964.13,-1.105],[1964.28,-0.915],[1964.5,-0.935],[1964.75,-1.0],[1964.9,-1.02],[1965.05,-0.85],[1965.2,-0.96],[1965.37,-0.81],[1965.6,-0.75],[1965.75,-0.62],[1965.9,-0.725],[1966.07,-0.56],[1966.23,-0.685],[1966.47,-0.75],[1966.7,-0.77],[1966.93,-0.77],[1967.17,-0.705],[1967.33,-0.54],[1967.55,-0.455],[1967.8,-0.475],[1968.0,-0.54],[1968.17,-0.62],[1968.4,-0.6],[1968.65,-0.645],[1968.8,-0.54],[1968.95,-0.645],[1969.03,-0.39],[1969.27,-0.39],[1969.5,-0.37],[1969.75,-0.37],[1970.0,-0.495],[1970.15,-0.685],[1970.38,-0.77],[1970.6,-0.79],[1970.83,-0.83],[1971.07,-0.75],[1971.2,-0.915],[1971.45,-0.98],[1971.7,-1.04],[1971.85,-1.17],[1972.0,-1.38],[1972.15,-1.125],[1972.3,-0.98],[1972.55,-0.83],[1972.8,-0.62],[1973.0,-0.245],[1973.15,-0.37],[1973.4,-0.495],[1973.63,-0.52],[1973.87,-0.85],[1974.1,-0.79],[1974.33,-0.81],[1974.56,-0.77],[1974.8,-0.645],[1974.95,-0.79],[1975.2,-0.495],[1975.42,-0.54],[1975.66,-0.58],[1975.9,-0.685],[1976.1,-0.52],[1976.28,-0.41],[1976.5,-0.245],[1976.75,-0.12],[1977.0,0.008],[1977.15,-0.075],[1977.3,-0.285],[1977.53,-0.495],[1977.77,-0.54],[1978.0,-0.62],[1978.15,-1.065],[1978.36,-1.02],[1978.6,-0.96],[1978.83,-0.705],[1979.07,-0.285],[1979.3,0.008],[1979.53,0.07],[1979.77,0.05],[1979.97,-0.18],[1980.15,0.3],[1980.47,0.3],[1980.7,0.325],[1980.93,0.385],[1981.0,0.56],[1981.17,-0.02],[1981.32,-0.4],[1981.56,-0.5],[1981.8,-0.65],[1981.95,-0.92],[1982.1,-0.58],[1982.34,-0.48],[1982.57,-0.52],[1982.73,-0.37],[1982.88,-0.2],[1983.08,-0.45],[1983.27,-0.35],[1983.5,-0.26],[1983.74,-0.34],[1983.97,-0.52],[1984.05,-0.37],[1984.2,-0.54],[1984.44,-0.56],[1984.67,-0.56],[1984.9,-0.62],[1985.14,-0.27],[1985.37,-0.22],[1985.6,-0.24],[1985.84,-0.24],[1986.0,-0.14],[1986.23,-0.12],[1986.47,-0.06],[1986.7,0.02],[1986.85,0.2],[1986.98,0.28],[1987.13,0.03],[1987.32,0.07],[1987.48,0.11],[1987.63,0.17],[1987.8,0.1],[1988.02,-0.06],[1988.26,-0.26],[1988.5,-0.28],[1988.72,-0.3],[1988.96,-0.48],[1989.2,-0.25],[1989.42,-0.25],[1989.66,-0.25],[1989.9,-0.2],[1990.05,-0.33],[1990.12,-0.09],[1990.36,-0.1],[1990.6,-0.1],[1990.83,-0.16],[1991.0,0.2],[1991.14,0.1],[1991.37,-0.15],[1991.6,-0.36],[1991.84,-0.5],[1992.07,-0.68],[1992.23,-0.75],[1992.46,-0.58],[1992.7,-0.47],[1992.93,-0.38],[1993.08,-0.46],[1993.3,-0.43],[1993.54,-0.32],[1993.78,-0.19],[1993.94,-0.05],[1994.1,0.34],[1994.33,0.31],[1994.56,0.25],[1994.8,0.24],[1994.95,0.08],[1995.1,-0.14],[1995.34,-0.22],[1995.56,-0.27],[1995.8,-0.47],[1995.96,-0.42],[1996.2,-0.34],[1996.43,-0.44],[1996.67,-0.44],[1996.9,-0.21],[1997.13,0.08],[1997.37,0.46],[1997.6,0.57],[1997.83,0.84],[1997.9,0.9],[1998.15,0.86],[1998.35,0.85],[1998.46,0.72],[1998.7,0.55],[1998.93,0.39],[1999.16,0.45],[1999.4,0.5],[1999.63,0.51],[1999.86,0.51],[2000.0,0.2],[2000.25,-0.15],[2000.48,-0.08],[2000.72,0.0],[2000.87,0.12],[2000.98,0.45]];

// ---------- Australia ----------
const auERA40 = [[1958.0,0.64],[1958.2,0.68],[1958.36,0.66],[1958.45,0.555],[1958.6,0.595],[1958.8,0.66],[1958.9,0.765],[1959.07,0.72],[1959.22,0.595],[1959.45,0.45],[1959.7,0.22],[1959.85,0.115],[1960.0,-0.055],[1960.15,0.03],[1960.3,0.2],[1960.55,0.325],[1960.8,0.345],[1961.0,0.51],[1961.25,0.43],[1961.5,0.345],[1961.65,0.47],[1961.87,0.43],[1962.1,0.345],[1962.35,0.365],[1962.57,0.26],[1962.8,0.2],[1963.05,0.24],[1963.27,0.345],[1963.5,0.47],[1963.7,0.66],[1963.9,0.47],[1964.13,0.51],[1964.36,0.385],[1964.6,0.325],[1964.83,0.41],[1965.03,0.43],[1965.2,0.3],[1965.45,0.345],[1965.7,0.26],[1965.85,0.07],[1966.0,-0.013],[1966.15,0.03],[1966.3,-0.12],[1966.55,-0.075],[1966.78,-0.095],[1966.93,0.115],[1967.17,0.07],[1967.33,0.175],[1967.5,0.03],[1967.7,-0.013],[1967.95,-0.18],[1968.17,-0.075],[1968.4,0.008],[1968.65,0.155],[1968.88,0.2],[1969.1,0.24],[1969.35,0.3],[1969.6,0.24],[1969.82,0.24],[1970.05,0.26],[1970.3,0.22],[1970.5,0.07],[1970.75,0.008],[1970.98,-0.12],[1971.2,-0.35],[1971.45,-0.265],[1971.7,-0.16],[1971.9,-0.075],[1972.07,0.24],[1972.3,0.345],[1972.55,0.575],[1972.8,0.62],[1972.95,0.555],[1973.18,0.26],[1973.4,0.05],[1973.63,-0.16],[1973.87,-0.33],[1974.1,-0.2],[1974.33,-0.075],[1974.56,0.155],[1974.8,0.24],[1975.0,0.26],[1975.27,0.2],[1975.5,0.07],[1975.75,-0.16],[1975.98,-0.285],[1976.22,-0.245],[1976.45,-0.305],[1976.6,-0.39],[1976.85,-0.18],[1977.08,-0.12],[1977.3,0.008],[1977.55,0.115],[1977.78,-0.055],[1978.0,-0.18],[1978.25,-0.245],[1978.36,-0.35],[1978.6,-0.265],[1978.83,-0.075],[1979.0,0.03],[1979.22,0.008],[1979.45,0.2],[1979.7,0.3],[1979.85,0.385],[1980.08,0.365],[1980.3,0.3],[1980.55,0.26],[1980.78,0.2],[1981.0,0.115],[1981.25,0.115],[1981.48,0.05],[1981.64,-0.095],[1981.8,-0.22],[1981.95,-0.055],[1982.18,-0.013],[1982.34,0.09],[1982.57,0.22],[1982.8,0.385],[1983.04,0.175],[1983.2,0.008],[1983.43,-0.013],[1983.66,-0.075],[1983.82,-0.305],[1983.97,-0.285],[1984.13,-0.12],[1984.28,0.05],[1984.52,0.03],[1984.75,0.115],[1985.0,0.03],[1985.22,-0.013],[1985.45,0.07],[1985.7,-0.013],[1985.92,-0.013],[1986.15,-0.075],[1986.4,-0.22],[1986.62,-0.18],[1986.85,-0.035],[1987.1,0.07],[1987.32,0.22],[1987.55,0.325],[1987.8,0.555],[1988.02,0.49],[1988.26,0.41],[1988.5,0.345],[1988.65,0.05],[1988.8,-0.12],[1989.03,-0.095],[1989.27,-0.095],[1989.5,-0.055],[1989.73,0.03],[1989.97,0.09],[1990.2,0.135],[1990.44,0.22],[1990.67,0.28],[1990.83,0.385],[1991.06,0.22],[1991.3,0.155],[1991.53,0.03],[1991.76,-0.16],[1991.92,-0.33],[1992.15,-0.285],[1992.38,-0.33],[1992.6,-0.245],[1992.85,-0.095],[1993.08,-0.035],[1993.3,-0.075],[1993.47,-0.095],[1993.7,-0.14],[1993.94,-0.013],[1994.17,-0.055],[1994.4,-0.14],[1994.64,-0.035],[1994.8,-0.055],[1995.03,-0.18],[1995.27,-0.055],[1995.5,0.115],[1995.73,0.07],[1995.96,0.09],[1996.2,0.09],[1996.43,0.05],[1996.6,-0.2],[1996.82,-0.2],[1997.05,-0.035],[1997.3,0.2],[1997.52,0.385],[1997.76,0.535],[1998.0,0.41],[1998.22,0.24],[1998.46,0.155],[1998.7,0.115],[1998.93,0.008],[1999.1,-0.2],[1999.3,-0.245],[1999.55,-0.39],[1999.8,-0.475],[2000.0,-0.16],[2000.25,-0.095],[2000.48,-0.013],[2000.64,0.05],[2000.8,-0.013],[2000.98,-0.16]];
const auNCEP = [[1958.0,0.575],[1958.13,0.62],[1958.36,0.47],[1958.52,0.365],[1958.75,0.43],[1959.0,0.49],[1959.22,0.47],[1959.45,0.365],[1959.7,0.2],[1959.92,0.03],[1960.08,-0.075],[1960.3,0.09],[1960.55,0.22],[1960.8,0.28],[1961.0,0.385],[1961.25,0.3],[1961.5,0.24],[1961.7,0.345],[1961.95,0.3],[1962.18,0.28],[1962.4,0.26],[1962.65,0.22],[1962.88,0.26],[1963.1,0.24],[1963.35,0.26],[1963.58,0.43],[1963.8,0.365],[1964.05,0.3],[1964.28,0.24],[1964.5,0.22],[1964.67,0.115],[1964.83,0.24],[1965.06,0.345],[1965.3,0.365],[1965.53,0.26],[1965.75,0.155],[1966.0,0.05],[1966.23,0.03],[1966.47,-0.013],[1966.7,0.09],[1966.93,0.26],[1967.1,0.3],[1967.33,0.365],[1967.55,0.22],[1967.8,0.09],[1968.0,0.07],[1968.25,-0.013],[1968.5,0.05],[1968.73,0.175],[1968.95,0.155],[1969.2,0.115],[1969.42,0.155],[1969.65,0.115],[1969.9,0.05],[1970.12,0.07],[1970.35,0.07],[1970.6,-0.075],[1970.83,-0.013],[1971.07,-0.12],[1971.3,-0.2],[1971.53,-0.245],[1971.75,-0.16],[1972.0,-0.035],[1972.23,0.2],[1972.45,0.47],[1972.7,0.66],[1972.95,0.7],[1973.18,0.385],[1973.4,0.175],[1973.63,-0.055],[1973.87,-0.18],[1974.1,-0.16],[1974.33,-0.14],[1974.56,0.03],[1974.8,0.03],[1975.03,0.07],[1975.27,0.03],[1975.5,-0.12],[1975.75,-0.265],[1975.9,-0.35],[1976.13,-0.245],[1976.36,-0.14],[1976.6,-0.22],[1976.85,-0.095],[1977.08,0.05],[1977.3,0.22],[1977.55,0.3],[1977.78,0.175],[1978.0,0.115],[1978.2,0.03],[1978.36,-0.055],[1978.52,-0.12],[1978.75,-0.055],[1979.0,0.155],[1979.22,0.24],[1979.45,0.41],[1979.7,0.535],[1979.85,0.575],[1980.08,0.535],[1980.3,0.51],[1980.55,0.45],[1980.78,0.385],[1981.0,0.325],[1981.25,0.22],[1981.48,0.09],[1981.7,-0.013],[1981.95,0.03],[1982.18,0.03],[1982.4,0.115],[1982.65,0.22],[1982.8,0.345],[1983.04,0.2],[1983.2,0.07],[1983.43,0.07],[1983.66,0.07],[1983.9,-0.14],[1984.13,-0.035],[1984.36,0.07],[1984.6,0.05],[1984.75,0.09],[1985.0,0.06],[1985.22,0.0],[1985.45,0.06],[1985.7,0.0],[1985.92,-0.02],[1986.15,-0.07],[1986.4,-0.2],[1986.62,-0.17],[1986.85,-0.05],[1987.1,0.05],[1987.32,0.2],[1987.55,0.33],[1987.8,0.57],[1988.02,0.51],[1988.26,0.42],[1988.5,0.33],[1988.65,0.07],[1988.8,-0.1],[1989.03,-0.08],[1989.27,-0.09],[1989.5,-0.04],[1989.73,0.01],[1989.97,0.07],[1990.2,0.11],[1990.44,0.2],[1990.67,0.27],[1990.83,0.38],[1991.06,0.2],[1991.3,0.13],[1991.53,0.0],[1991.76,-0.22],[1991.92,-0.42],[1992.15,-0.48],[1992.38,-0.53],[1992.6,-0.45],[1992.85,-0.33],[1993.08,-0.23],[1993.3,-0.27],[1993.55,-0.35],[1993.78,-0.4],[1994.0,-0.35],[1994.25,-0.33],[1994.5,-0.32],[1994.7,-0.34],[1994.9,-0.25],[1995.1,-0.12],[1995.3,-0.05],[1995.5,0.15],[1995.73,0.13],[1995.96,0.12],[1996.2,0.11],[1996.43,0.08],[1996.6,-0.15],[1996.82,-0.18],[1997.05,-0.03],[1997.3,0.22],[1997.52,0.42],[1997.76,0.62],[1998.0,0.5],[1998.22,0.35],[1998.46,0.25],[1998.7,0.12],[1998.93,0.0],[1999.1,-0.2],[1999.3,-0.22],[1999.55,-0.36],[1999.8,-0.45],[2000.0,-0.15],[2000.25,-0.05],[2000.48,0.05],[2000.64,0.15],[2000.8,0.08],[2000.98,-0.05]];
const auCRU = [[1958.0,-0.22],[1958.2,-0.245],[1958.36,-0.43],[1958.6,-0.43],[1958.8,-0.33],[1959.0,-0.2],[1959.22,-0.245],[1959.42,-0.41],[1959.6,-0.645],[1959.77,-0.81],[1959.92,-0.935],[1960.15,-0.895],[1960.4,-0.725],[1960.55,-0.58],[1960.8,-0.43],[1961.0,-0.305],[1961.25,-0.35],[1961.4,-0.41],[1961.63,-0.2],[1961.87,-0.33],[1962.1,-0.37],[1962.35,-0.35],[1962.57,-0.515],[1962.8,-0.495],[1963.05,-0.495],[1963.27,-0.515],[1963.5,-0.41],[1963.74,-0.305],[1963.97,-0.495],[1964.2,-0.475],[1964.45,-0.495],[1964.67,-0.6],[1964.83,-0.54],[1965.03,-0.285],[1965.2,-0.35],[1965.45,-0.37],[1965.6,-0.43],[1965.85,-0.62],[1966.07,-0.75],[1966.3,-0.85],[1966.55,-0.79],[1966.78,-0.81],[1966.93,-0.6],[1967.17,-0.54],[1967.33,-0.37],[1967.5,-0.475],[1967.7,-0.495],[1967.95,-0.665],[1968.17,-0.62],[1968.4,-0.705],[1968.56,-0.455],[1968.8,-0.39],[1969.03,-0.37],[1969.27,-0.35],[1969.5,-0.33],[1969.75,-0.39],[1970.0,-0.35],[1970.2,-0.37],[1970.45,-0.37],[1970.6,-0.515],[1970.83,-0.41],[1971.07,-0.515],[1971.3,-0.665],[1971.53,-0.56],[1971.75,-0.475],[1972.0,-0.35],[1972.23,-0.12],[1972.45,0.135],[1972.7,0.365],[1972.85,0.325],[1973.1,0.135],[1973.3,-0.075],[1973.55,-0.39],[1973.8,-0.56],[1974.05,-0.685],[1974.25,-0.725],[1974.5,-0.665],[1974.75,-0.495],[1974.98,-0.37],[1975.2,-0.41],[1975.42,-0.37],[1975.66,-0.6],[1975.9,-0.75],[1976.13,-0.56],[1976.36,-0.58],[1976.6,-0.6],[1976.85,-0.455],[1977.08,-0.305],[1977.3,-0.245],[1977.55,-0.055],[1977.78,-0.18],[1978.0,-0.305],[1978.25,-0.37],[1978.4,-0.475],[1978.6,-0.37],[1978.83,-0.16],[1979.07,-0.035],[1979.3,0.03],[1979.53,0.175],[1979.77,0.325],[1980.0,0.3],[1980.23,0.22],[1980.47,0.175],[1980.7,0.155],[1980.93,0.008],[1981.17,0.03],[1981.4,-0.035],[1981.64,-0.285],[1981.8,-0.41],[1982.03,-0.245],[1982.26,-0.16],[1982.5,0.008],[1982.8,0.2],[1983.04,0.008],[1983.2,-0.285],[1983.43,-0.285],[1983.66,-0.305],[1983.82,-0.54],[1983.97,-0.54],[1984.13,-0.35],[1984.28,-0.2],[1984.52,-0.2],[1984.75,-0.12],[1985.0,-0.16],[1985.22,-0.2],[1985.45,-0.095],[1985.7,-0.16],[1985.92,-0.16],[1986.15,-0.245],[1986.4,-0.35],[1986.62,-0.305],[1986.85,-0.12],[1987.1,0.008],[1987.32,0.175],[1987.55,0.28],[1987.8,0.51],[1988.02,0.47],[1988.26,0.385],[1988.5,0.3],[1988.65,-0.035],[1988.8,-0.22],[1989.03,-0.18],[1989.27,-0.2],[1989.5,-0.095],[1989.73,-0.035],[1989.97,0.07],[1990.2,0.115],[1990.44,0.2],[1990.67,0.26],[1990.83,0.325],[1991.06,0.22],[1991.3,0.175],[1991.53,0.05],[1991.76,-0.16],[1991.92,-0.265],[1992.15,-0.245],[1992.38,-0.285],[1992.6,-0.2],[1992.85,-0.095],[1993.08,-0.075],[1993.3,-0.12],[1993.54,-0.16],[1993.7,-0.245],[1993.94,-0.14],[1994.17,-0.075],[1994.4,-0.16],[1994.64,-0.12],[1994.88,-0.075],[1995.03,-0.14],[1995.27,-0.035],[1995.5,0.155],[1995.73,0.135],[1995.96,0.115],[1996.2,0.115],[1996.43,0.07],[1996.6,-0.22],[1996.82,-0.245],[1997.05,-0.075],[1997.3,0.155],[1997.52,0.345],[1997.76,0.555],[1998.0,0.49],[1998.22,0.385],[1998.46,0.22],[1998.7,0.135],[1998.93,0.03],[1999.1,-0.16],[1999.3,-0.16],[1999.55,-0.35],[1999.8,-0.41],[2000.0,-0.18],[2000.25,-0.055],[2000.48,0.03],[2000.64,0.07],[2000.8,0.05]];

const panels = [
  {name: panelNames[0], domain: [-1, 0.5], ticks: yTicksHemi, series: [nhERA40, nhNCEP, nhCRU]},
  {name: panelNames[1], domain: [-1, 0.5], ticks: yTicksHemi, series: [shERA40, shNCEP, shCRU]},
  {name: panelNames[2], domain: [-1.5, 1.5], ticks: yTicksRegion, series: [euERA40, euNCEP, euCRU]},
  {name: panelNames[3], domain: [-1.5, 1.5], ticks: yTicksRegion, series: [naERA40, naNCEP, naCRU]},
  {name: panelNames[4], domain: [-1.5, 1.5], ticks: yTicksRegion, series: [auERA40, auNCEP, auCRU]}
];

const styles = [
  {stroke: "#000", width: 2.3, dash: null, cap: "butt"},
  {stroke: "#000", width: 2.4, dash: "0.1,5.5", cap: "round"},
  {stroke: "#8a8a8a", width: 2.3, dash: null, cap: "butt"}
];

const svg = d3.select("#chart");
const left = 49, right = 985;
const x = d3.scaleLinear().domain([1957.54, 2001.27]).range([left, right]);
const fmt = v => (v === 0 ? "0" : String(v));

panels.forEach((p, i) => {
  const top = 43 + i * 277.5, bottom = top + 237.5;
  const y = d3.scaleLinear().domain(p.domain).range([bottom, top]);
  const g = svg.append("g");

  const grid = p.ticks.filter(t => t !== 0 && t !== p.domain[0] && t !== p.domain[1]);
  g.selectAll("line.grid").data(grid).join("line")
    .attr("x1", left).attr("x2", right)
    .attr("y1", d => y(d)).attr("y2", d => y(d))
    .attr("stroke", "#b4b4b4").attr("stroke-width", 1.3).attr("stroke-dasharray", "11,7");
  g.append("line").attr("x1", left).attr("x2", right).attr("y1", y(0)).attr("y2", y(0))
    .attr("stroke", "#000").attr("stroke-width", 1.2);

  const line = d3.line().x(d => x(d[0])).y(d => y(d[1]));
  [2, 0, 1].forEach(k => {
    const st = styles[k];
    const path = g.append("path").datum(p.series[k]).attr("d", line)
      .attr("fill", "none").attr("stroke", st.stroke).attr("stroke-width", st.width)
      .attr("stroke-linejoin", "round").attr("stroke-linecap", st.cap);
    if (st.dash) path.attr("stroke-dasharray", st.dash);
  });

  g.append("rect").attr("x", left).attr("y", top).attr("width", right - left).attr("height", bottom - top)
    .attr("fill", "none").attr("stroke", "#000").attr("stroke-width", 1.3);
  g.append("line").attr("x1", left).attr("x2", right).attr("y1", bottom).attr("y2", bottom)
    .attr("stroke", "#000").attr("stroke-width", 2);

  const ya = g.append("g").attr("transform", `translate(${left},0)`)
    .call(d3.axisLeft(y).tickValues(p.ticks).tickSize(0).tickPadding(5).tickFormat(fmt));
  ya.select(".domain").remove();
  ya.selectAll("text").attr("font-size", 18).attr("fill", "#000").attr("font-family", "Liberation Sans, Arial, sans-serif");

  const xa = g.append("g").attr("transform", `translate(0,${bottom})`)
    .call(d3.axisBottom(x).tickValues(xTicks).tickSize(4).tickPadding(5.5).tickFormat(d3.format("d")));
  xa.select(".domain").remove();
  xa.selectAll("line").attr("stroke", "#000").attr("stroke-width", 1.3);
  xa.selectAll("text").attr("font-size", 18).attr("fill", "#000").attr("font-family", "Liberation Sans, Arial, sans-serif");

  g.append("text").attr("x", 976).attr("y", bottom - 12.5).attr("text-anchor", "end")
    .attr("font-size", 23).attr("font-weight", "bold").text(p.name);
});

// legend
const legendItems = [
  {name: seriesNames[0], x1: 141, x2: 220, tx: 232, style: styles[0]},
  {name: seriesNames[1], x1: 440, x2: 518, tx: 530, style: styles[1]},
  {name: seriesNames[2], x1: 748, x2: 818, tx: 835, style: styles[2]}
];
const lg = svg.append("g");
legendItems.forEach(it => {
  const l = lg.append("line").attr("x1", it.x1).attr("x2", it.x2).attr("y1", 19).attr("y2", 19)
    .attr("stroke", it.style.stroke).attr("stroke-width", it.style.width).attr("stroke-linecap", it.style.cap);
  if (it.style.dash) l.attr("stroke-dasharray", "0.1,7.5").attr("stroke-width", 2.2);
  lg.append("text").attr("x", it.tx).attr("y", 26.5).attr("font-size", 21).attr("font-weight", "bold").text(it.name);
});
</script></body></html>
